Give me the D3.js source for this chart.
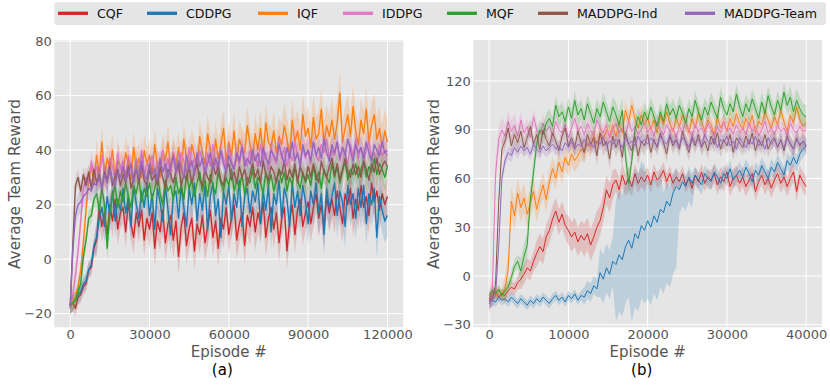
<!DOCTYPE html>
<html><head><meta charset="utf-8">
<script src="https://cdn.jsdelivr.net/npm/d3@7"></script>
<style>body{margin:0;background:#fff}svg{display:block}</style>
</head><body>
<svg id="chart" width="830" height="387"></svg>
<script>
// ---------- shared ----------
const seriesNames = ["CQF","CDDPG","IQF","IDDPG","MQF","MADDPG-Ind","MADDPG-Team"];
const seriesColors = ["#d62728","#1f77b4","#ff7f0e","#e377c2","#2ca02c","#8c564b","#9467bd"];

// ---------- panel (a): episodes 0..120000, one value every 1000 ----------
const stepA = 1000;
const xTicksA = [0,30000,60000,90000,120000];
const yTicksA = [-20,0,20,40,60,80];
const cqfA = [
-17,-16,-18,-14,-13,-10,-9,-4,-3,4,
7,19,12,17,9,20,14,22,11,17,
19,10,21,13,8,17,12,18,7,15,
11,17,4,14,10,18,6,13,16,7,
14,1,12,17,5,11,15,3,13,9,
16,6,12,18,8,14,4,15,11,19,
9,15,20,7,13,17,5,16,12,19,
10,17,13,21,8,15,19,11,17,6,
15,19,3,14,20,9,18,22,12,17,
21,13,19,24,15,20,11,23,17,22,
16,25,19,13,24,20,26,15,22,18,
27,19,23,16,28,21,25,18,24,20,
23];
const cddpgA = [
-17,-16,-15,-13,-12,-9,-8,-4,-2,5,
8,15,19,12,23,16,25,14,22,18,
26,17,23,12,27,20,15,25,19,28,
16,24,11,26,21,14,27,18,9,23,
25,15,27,19,12,26,20,28,14,24,
18,27,11,23,28,16,22,8,25,20,
27,14,24,19,29,12,23,26,17,25,
21,28,13,25,18,27,10,24,20,29,
15,26,22,12,28,19,25,16,27,21,
13,25,20,28,17,24,9,26,19,23,
28,16,25,21,12,27,20,24,15,26,
19,27,13,24,20,26,8,23,18,14,
16];
const iqfA = [
-17,-16,-14,-10,-4,6,18,29,34,28,
38,31,43,30,37,33,40,29,36,34,
31,39,35,29,41,33,37,30,40,35,
38,32,42,34,30,40,36,43,33,39,
35,41,32,44,37,33,42,38,34,45,
39,35,46,40,33,44,37,42,48,36,
43,38,47,36,44,41,39,49,42,37,
46,40,48,38,50,43,41,47,39,45,
42,49,44,38,51,43,47,40,53,45,
48,41,52,44,46,55,42,49,45,51,
44,50,61,43,48,53,45,56,47,42,
51,46,55,43,49,53,44,48,41,47,
43];
const iddpgA = [
-17,-13,-6,3,14,26,30,28,36,31,
34,29,38,32,28,37,34,30,39,33,
36,30,38,33,29,37,32,40,31,35,
33,38,30,36,34,40,32,37,31,39,
35,32,39,36,31,41,34,37,33,40,
36,31,39,34,42,35,32,40,37,34,
41,36,33,39,35,42,37,34,40,36,
38,34,42,36,39,33,41,37,35,43,
37,41,34,39,36,43,38,35,41,37,
40,35,43,38,36,42,39,44,37,40,
38,43,36,41,39,35,42,38,44,37,
41,36,40,43,37,39,35,42,38,40,
38];
const mqfA = [
-17,-16,-15,-12,-9,1,7,15,16,22,
24,18,26,20,4,17,23,27,19,25,
21,28,23,19,27,24,30,21,26,23,
28,22,26,31,24,20,29,25,27,22,
30,24,27,22,31,26,29,23,28,32,
25,29,23,31,27,24,32,28,25,30,
27,33,25,29,26,31,24,30,28,33,
26,30,28,24,32,27,31,25,29,33,
28,32,25,30,27,34,29,26,32,28,
31,27,34,29,32,26,33,30,28,35,
30,34,28,32,36,29,33,31,35,30,
33,36,30,34,32,37,31,35,33,30,
34];
const maddpgIndA = [
-17,5,27,30,25,31,27,32,26,33,
28,31,26,32,29,34,27,30,33,27,
31,28,34,26,30,33,28,35,29,27,
33,29,31,27,34,30,26,33,31,28,
32,35,27,31,29,34,28,32,35,29,
27,33,30,28,35,31,34,29,27,33,
35,29,32,28,34,30,33,27,31,35,
30,33,28,36,31,29,34,32,28,33,
31,36,29,33,30,35,28,34,31,29,
34,30,35,31,28,36,32,30,34,37,
31,35,29,33,37,32,30,35,31,34,
30,36,33,29,35,32,37,31,34,36,
34];
const maddpgTeamA = [
-18,3,16,20,21,23,24,26,25,28,
27,30,26,31,28,33,29,27,32,30,
34,29,31,35,28,33,30,36,31,29,
35,31,33,29,37,32,35,30,34,38,
32,36,34,30,38,33,36,31,39,34,
37,32,35,39,33,37,34,40,35,32,
38,35,33,39,36,41,34,37,35,40,
36,39,34,41,37,35,40,38,36,42,
38,35,41,37,43,36,39,34,42,38,
40,36,43,38,41,37,44,39,36,42,
39,43,37,41,38,44,40,36,42,39,
41,37,43,39,36,42,40,38,43,39,
40];
// shaded-band half widths, one per 10000 episodes
const bandA = [
[3,6,6,7,7,7,7,7,7,7,7,7,7],   // CQF
[3,6,6,7,7,7,7,7,7,8,8,8,8],   // CDDPG
[3,6,6,6,6,7,7,7,8,8,8,8,8],   // IQF
[4,5,5,5,5,5,5,5,5,5,5,5,5],   // IDDPG
[3,5,5,5,5,5,5,5,5,5,5,5,5],   // MQF
[3,4,4,4,4,4,4,4,4,4,4,4,4],   // MADDPG-Ind
[4,4,4,4,4,4,4,4,4,4,4,4,4]    // MADDPG-Team
];

// ---------- panel (b): episodes 0..40000, one value every 400 ----------
const stepB = 400;
const xTicksB = [0,10000,20000,30000,40000];
const yTicksB = [-30,0,30,60,90,120];
const cqfB = [
-15,-12,-10,-13,-11,-12,-9,-7,-8,-4,
-2,1,5,3,9,14,18,15,24,28,
35,40,33,38,31,28,24,27,21,25,
22,26,19,24,30,34,42,53,48,56,
59,53,62,56,60,55,63,57,61,58,
62,56,64,59,61,65,58,63,57,61,
58,63,56,60,54,62,58,64,57,61,
59,63,56,61,58,64,55,60,62,57,
61,55,59,63,52,58,62,56,60,54,
59,63,57,61,55,60,64,52,62,58,
55];
const cddpgB = [
-17,-15,-16,-13,-15,-14,-16,-13,-15,-17,
-14,-16,-18,-15,-17,-14,-16,-13,-15,-17,
-14,-12,-15,-13,-16,-12,-14,-11,-15,-12,
-13,-9,-11,-6,-8,2,-2,5,1,9,
7,13,10,18,22,17,26,23,31,28,
34,30,37,33,41,39,46,43,51,55,
53,58,55,61,57,62,59,56,63,60,
58,64,61,57,63,60,66,59,62,65,
61,67,63,58,65,62,68,64,60,67,
64,70,66,62,71,68,73,69,75,78,
80];
const iqfB = [
-14,-10,-12,-9,-11,-8,4,46,37,51,
42,48,38,45,52,41,49,56,47,58,
66,60,70,64,73,68,75,71,74,78,
76,82,79,86,81,88,84,90,86,93,
86,94,88,102,95,105,97,91,99,93,
97,90,96,88,99,93,101,94,89,97,
92,99,94,88,97,91,100,95,89,96,
93,87,98,91,95,89,97,92,100,94,
90,97,92,99,88,95,93,101,96,91,
98,93,102,95,89,99,94,104,96,92,
94];
const iddpgB = [
-15,-10,62,84,90,86,95,89,93,86,
96,88,92,85,98,90,87,94,89,92,
86,95,90,88,93,85,91,97,89,92,
87,94,90,86,96,91,88,93,85,90,
94,88,91,86,95,89,92,87,90,94,
88,92,86,95,90,87,93,89,91,85,
92,88,95,90,86,93,89,91,87,94,
90,86,92,88,95,89,91,87,93,88,
91,87,94,89,92,86,90,95,88,91,
87,93,89,91,86,94,90,88,92,89,
90];
const mqfB = [
-12,-9,-11,-8,-12,-9,-7,-1,6,9,
3,12,19,47,64,81,90,87,94,97,
92,105,98,101,95,104,97,108,99,103,
96,106,100,94,103,98,107,101,95,104,
99,93,102,74,57,71,90,98,93,101,
96,104,98,92,101,95,106,99,103,97,
105,100,94,103,98,108,101,96,104,99,
107,102,97,110,103,99,106,101,112,104,
98,106,101,109,103,97,107,100,111,104,
99,108,102,113,105,110,101,108,103,99,
98];
const maddpgIndB = [
-15,-14,-6,45,78,83,91,80,87,82,
89,79,85,92,81,87,78,90,84,80,
88,83,77,86,91,80,85,79,89,82,
76,87,81,85,74,88,80,83,72,86,
79,84,73,88,81,77,86,74,83,80,
87,76,84,79,88,82,75,86,80,84,
78,89,82,76,85,80,87,79,83,77,
86,81,88,78,84,80,87,76,85,82,
79,86,81,88,77,84,80,87,78,83,
85,79,84,77,86,81,78,85,80,83,
80];
const maddpgTeamB = [
-16,-15,-12,18,60,71,76,74,79,76,
80,77,79,75,81,78,76,80,77,79,
81,78,80,77,82,79,83,78,81,80,
84,80,82,79,83,81,85,80,83,81,
84,82,79,85,81,83,80,86,82,84,
81,85,82,80,86,83,81,87,82,84,
80,85,83,79,86,82,84,80,87,83,
81,85,79,84,82,86,80,83,78,85,
82,79,84,81,86,80,83,78,85,81,
84,80,83,79,85,82,78,84,81,83,
80];
// band below / above the line, one per 2000 episodes
const bandLoB = [
[3,4,6,8,8,9,10,9,7,6,5,5,5,5,6,6,6,6,6,6,6],
[3,3,3,3,3,3,5,15,35,45,48,50,15,6,5,5,5,5,5,5,5],
[3,9,9,8,7,7,6,6,6,6,5,5,5,5,5,5,5,5,5,5,5],
[8,7,5,5,5,5,5,5,5,5,5,5,5,5,5,5,5,5,5,5,5],
[3,4,8,6,6,6,6,6,8,6,6,6,6,6,6,6,6,6,6,7,7],
[5,6,5,5,5,5,6,6,6,6,5,5,5,5,5,5,5,5,5,5,5],
[4,4,4,4,4,4,4,4,4,4,4,4,4,4,4,4,4,4,4,4,4]
];
const bandHiB = [
[3,4,6,8,8,9,10,9,7,6,5,5,5,5,6,6,6,6,6,6,6],
[3,3,3,3,3,3,6,15,40,40,25,12,6,5,5,5,5,5,5,5,5],
[3,9,9,8,7,7,6,6,6,6,5,5,5,5,5,5,5,5,5,5,5],
[8,7,5,5,5,5,5,5,5,5,5,5,5,5,5,5,5,5,5,5,5],
[3,4,8,6,6,6,6,6,8,6,6,6,6,6,6,6,6,6,6,7,7],
[5,6,5,5,5,5,6,6,6,6,5,5,5,5,5,5,5,5,5,5,5],
[4,4,4,4,4,4,4,4,4,4,4,4,4,4,4,4,4,4,4,4,4]
];

// ---------- drawing ----------
const FONT = "DejaVu Sans, sans-serif";
const svg = d3.select("#chart");
const defs = svg.append("defs");

function panel(p) {
  const x = d3.scaleLinear().domain(p.xDomain).range([p.left, p.right]);
  const y = d3.scaleLinear().domain(p.yDomain).range([p.bottom, p.top]);
  const g = svg.append("g");
  g.append("rect").attr("x", p.left).attr("y", p.top)
    .attr("width", p.right - p.left).attr("height", p.bottom - p.top).attr("fill", "#E5E5E5");
  g.selectAll(null).data(p.xTicks).join("line")
    .attr("x1", d => x(d)).attr("x2", d => x(d)).attr("y1", p.top).attr("y2", p.bottom)
    .attr("stroke", "#fff").attr("stroke-width", 1);
  g.selectAll(null).data(p.yTicks).join("line")
    .attr("y1", d => y(d)).attr("y2", d => y(d)).attr("x1", p.left).attr("x2", p.right)
    .attr("stroke", "#fff").attr("stroke-width", 1);

  defs.append("clipPath").attr("id", p.id).append("rect")
    .attr("x", p.left).attr("y", p.top).attr("width", p.right - p.left).attr("height", p.bottom - p.top);
  const plot = g.append("g").attr("clip-path", `url(#${p.id})`);

  p.series.forEach((vals, k) => {
    const pts = vals.map((v, i) => {
      const s = Math.min(Math.floor(i / p.seg), p.lo[k].length - 1);
      return {ep: i * p.step, v, lo: v - p.lo[k][s], hi: v + p.hi[k][s]};
    });
    plot.append("path").datum(pts)
      .attr("d", d3.area().x(d => x(d.ep)).y0(d => y(d.lo)).y1(d => y(d.hi)))
      .attr("fill", seriesColors[k]).attr("fill-opacity", 0.2);
    plot.append("path").datum(pts)
      .attr("d", d3.line().x(d => x(d.ep)).y(d => y(d.v)))
      .attr("fill", "none").attr("stroke", seriesColors[k]).attr("stroke-width", p.lw)
      .attr("stroke-linejoin", "round");
  });

  const xa = g.append("g").attr("transform", `translate(0,${p.bottom})`)
    .call(d3.axisBottom(x).tickValues(p.xTicks).tickSize(0).tickPadding(2.5).tickFormat(d3.format("d")));
  xa.select(".domain").remove();
  xa.attr("font-size", 13).attr("font-family", FONT).attr("color", "#555");

  const ya = g.append("g").attr("transform", `translate(${p.left},0)`)
    .call(d3.axisLeft(y).tickValues(p.yTicks).tickSize(0).tickPadding(2.6).tickFormat(d3.format("d")));
  ya.select(".domain").remove();
  ya.attr("font-size", 13).attr("font-family", FONT).attr("color", "#555");

  g.append("text").attr("x", (p.left + p.right) / 2).attr("y", 356.6)
    .attr("text-anchor", "middle").attr("font-family", FONT).attr("font-size", 15)
    .attr("fill", "#555").text("Episode #");
  g.append("text").attr("transform", `translate(${p.ylabX},184) rotate(-90)`)
    .attr("dy", "0.35em").attr("text-anchor", "middle").attr("font-family", FONT)
    .attr("font-size", 15.3).attr("fill", "#555").text("Average Team Reward");
  g.append("text").attr("x", p.capX).attr("y", 374.6)
    .attr("text-anchor", "middle").attr("font-family", FONT).attr("font-size", 15)
    .attr("fill", "#000").text(p.caption);
}

panel({
  id: "clipA", left: 54.3, right: 403.3, top: 40, bottom: 327.3,
  xDomain: [-6000, 126000], yDomain: [-25.0, 80.4],
  xTicks: xTicksA, yTicks: yTicksA, step: stepA, seg: 10, lw: 1.4,
  series: [cqfA, cddpgA, iqfA, iddpgA, mqfA, maddpgIndA, maddpgTeamA],
  lo: bandA, hi: bandA, ylabX: 15, capX: 222.3, caption: "(a)"
});
panel({
  id: "clipB", left: 473.3, right: 822, top: 40, bottom: 327.3,
  xDomain: [-2000, 42000], yDomain: [-31.6, 145.2],
  xTicks: xTicksB, yTicks: yTicksB, step: stepB, seg: 5, lw: 1.0,
  series: [cqfB, cddpgB, iqfB, iddpgB, mqfB, maddpgIndB, maddpgTeamB],
  lo: bandLoB, hi: bandHiB, ylabX: 434, capX: 641.7, caption: "(b)"
});

// ---------- legend ----------
const legendX = [58, 147, 258, 343, 447, 538, 685];
const lg = svg.append("g");
lg.append("rect").attr("x", 54.3).attr("y", 2.3).attr("width", 771.7).attr("height", 22.7)
  .attr("rx", 3).attr("fill", "#E5E5E5");
seriesNames.forEach((name, k) => {
  lg.append("line").attr("x1", legendX[k]).attr("x2", legendX[k] + 30)
    .attr("y1", 13.3).attr("y2", 13.3).attr("stroke", seriesColors[k]).attr("stroke-width", 3.3);
  lg.append("text").attr("x", legendX[k] + 39).attr("y", 18.2)
    .attr("font-family", FONT).attr("font-size", 12.6).attr("fill", "#111").text(name);
});
</script>
</body></html>
